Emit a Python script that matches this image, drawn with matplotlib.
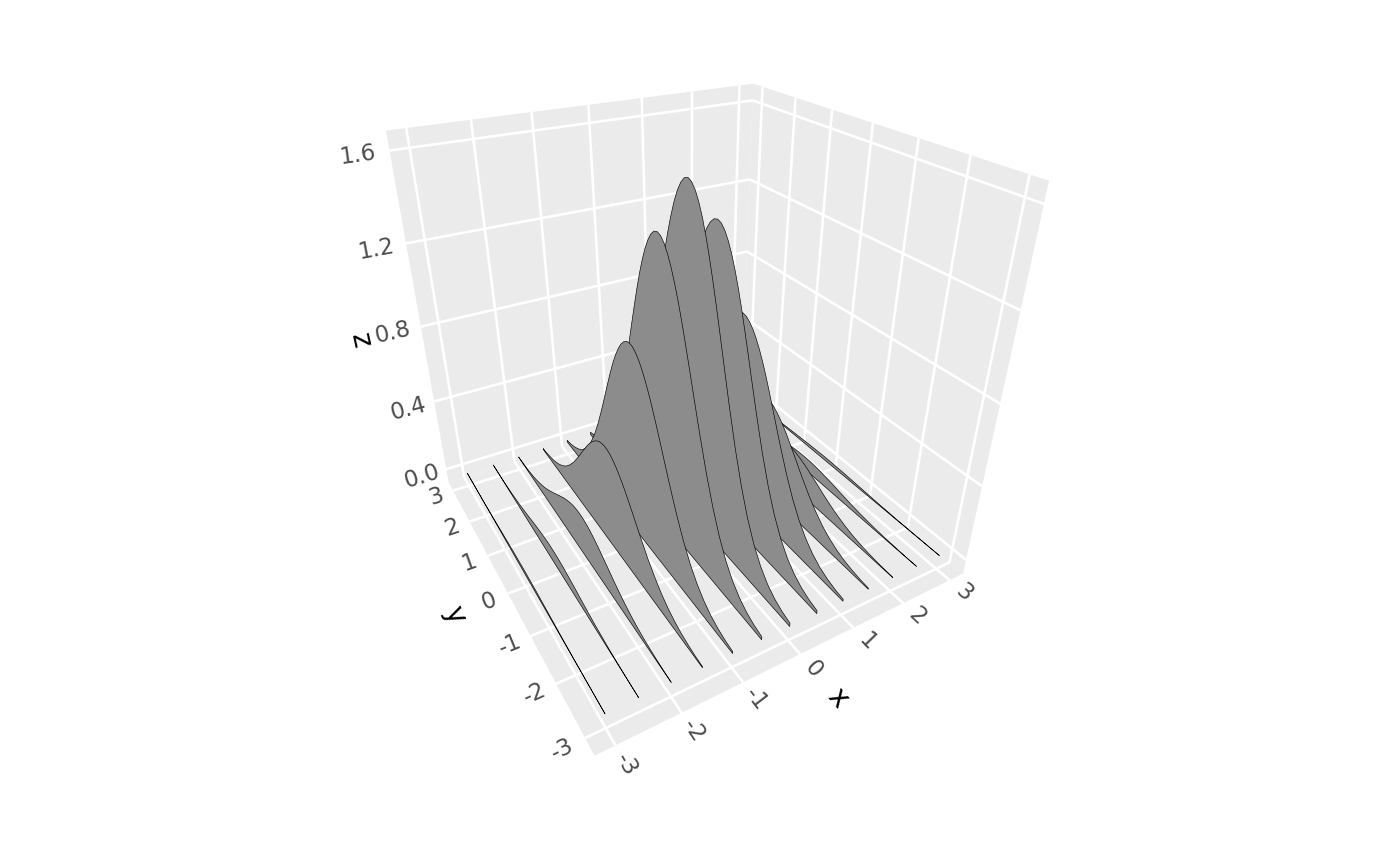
import numpy as np
import matplotlib
matplotlib.use('Agg')
import matplotlib.pyplot as plt
from mpl_toolkits.mplot3d import proj3d
from mpl_toolkits.mplot3d.art3d import Poly3DCollection

# ---- data ----
x_values = [-3, -2.5, -2, -1.5, -1, -0.5, 0, 0.5, 1, 1.5, 2, 2.5, 3]
y_values = [-3.0, -2.8, -2.6, -2.4, -2.2, -2.0, -1.8, -1.6, -1.4,
            -1.2, -1.1, -1.0, -0.9, -0.8, -0.7, -0.6, -0.5, -0.4, -0.3, -0.2, -0.1, 0.0,
            0.1, 0.2, 0.3, 0.4, 0.5, 0.6, 0.7, 0.8, 0.9, 1.0, 1.1, 1.2,
            1.4, 1.6, 1.8, 2.0, 2.2, 2.4, 2.6, 2.8, 3.0]
ridge_00 = [.018,.032,.054,.089,.142,.215,.315,.443,.597,
            .775,.869,.966,1.062,1.156,1.246,1.330,1.405,1.470,1.522,1.560,1.584,1.592,
            1.584,1.560,1.522,1.470,1.405,1.330,1.246,1.156,1.062,.966,.869,.775,
            .597,.443,.315,.215,.142,.089,.054,.032,.018]
ridge_05 = [.016,.028,.048,.079,.125,.190,.278,.391,.527,
            .684,.767,.852,.937,1.020,1.100,1.174,1.240,1.297,1.343,1.377,1.398,1.405,
            1.398,1.377,1.343,1.297,1.240,1.174,1.100,1.020,.937,.852,.767,.684,
            .527,.391,.278,.190,.125,.079,.048,.028,.016]
ridge_10 = [.011,.019,.033,.054,.086,.131,.191,.268,.362,
            .470,.527,.586,.644,.701,.756,.807,.852,.891,.923,.946,.961,.966,
            .961,.946,.923,.891,.852,.807,.756,.701,.644,.586,.527,.470,
            .362,.268,.191,.131,.086,.054,.033,.019,.011]
ridge_15 = [.006,.010,.018,.029,.046,.070,.102,.144,.194,
            .252,.282,.314,.345,.375,.405,.432,.456,.477,.494,.507,.514,.517,
            .514,.507,.494,.477,.456,.432,.405,.375,.345,.314,.282,.252,
            .194,.144,.102,.070,.046,.029,.018,.010,.006]
ridge_20 = [.002,.004,.007,.012,.019,.029,.043,.060,.081,
            .105,.118,.131,.144,.156,.169,.180,.190,.199,.206,.211,.214,.215,
            .214,.211,.206,.199,.190,.180,.169,.156,.144,.131,.118,.105,
            .081,.060,.043,.029,.019,.012,.007,.004,.002]
ridge_25 = [.001,.001,.002,.004,.006,.009,.014,.019,.026,
            .034,.038,.042,.047,.051,.055,.058,.062,.065,.067,.069,.070,.070,
            .070,.069,.067,.065,.062,.058,.055,.051,.047,.042,.038,.034,
            .026,.019,.014,.009,.006,.004,.002,.001,.001]
ridge_30 = [0,0,.001,.001,.002,.002,.004,.005,.007,
            .009,.010,.011,.012,.013,.014,.015,.016,.016,.017,.017,.018,.018,
            .018,.017,.017,.016,.016,.015,.014,.013,.012,.011,.010,.009,
            .007,.005,.004,.002,.002,.001,.001,0,0]
ridges = [ridge_30, ridge_25, ridge_20, ridge_15, ridge_10, ridge_05, ridge_00,
          ridge_05, ridge_10, ridge_15, ridge_20, ridge_25, ridge_30]
x_ticks = [-3, -2, -1, 0, 1, 2, 3]
y_ticks = [-3, -2, -1, 0, 1, 2, 3]
z_ticks = [0.0, 0.4, 0.8, 1.2, 1.6]
x_labels = ['-3', '-2', '-1', '0', '1', '2', '3']
y_labels = ['-3', '-2', '-1', '0', '1', '2', '3']
z_labels = ['0.0', '0.4', '0.8', '1.2', '1.6']

# ---- figure and camera ----
W, H = 1400, 866
L, B, T = 3.3, -0.08, 1.68
PANEL, GRID, FILL, TICK = '#ebebeb', 'white', '#8c8c8c', '#4d4d4d'
fig = plt.figure(figsize=(14, 8.66), dpi=100)
ax = fig.add_axes([-24.2 / W, 59.2 / H, 1, 1], projection='3d', computed_zorder=False)
ax.set_xlim(-L, L, view_margin=0)
ax.set_ylim(-L, L, view_margin=0)
ax.set_zlim(B, T, view_margin=0)
ax.view_init(elev=29.89, azim=-119.99, roll=0.025)
ax.set_proj_type('persp', focal_length=0.18)
ax.set_box_aspect((1, 1, 1), zoom=0.8182)
ax.set_axis_off()

# ---- panels ----
panels = [[(-L, -L, B), (L, -L, B), (L, L, B), (-L, L, B)],
          [(-L, L, B), (L, L, B), (L, L, T), (-L, L, T)],
          [(L, L, B), (L, -L, B), (L, -L, T), (L, L, T)]]
for poly in panels:
    ax.add_collection3d(Poly3DCollection([poly], facecolor=PANEL, edgecolor='none', zorder=1))

# ---- grid ----
def gline(xs, ys, zs):
    ax.plot(xs, ys, zs, color=GRID, lw=1.9, solid_capstyle='butt', zorder=2)
for v in x_ticks:
    gline([v, v], [-L, L], [B, B])
    gline([v, v], [L, L], [B, T])
for v in y_ticks:
    gline([-L, L], [v, v], [B, B])
    gline([L, L], [v, v], [B, T])
for v in z_ticks:
    gline([-L, L], [L, L], [v, v])
    gline([L, L], [-L, L], [v, v])

# ---- ridges, back to front ----
order = sorted(range(len(x_values)), key=lambda i: -x_values[i])
for n, i in enumerate(order):
    xv = x_values[i]
    top = [(xv, y, z) for y, z in zip(y_values, ridges[i])]
    base = [(xv, y_values[-1], 0), (xv, y_values[0], 0)]
    ax.add_collection3d(Poly3DCollection([top + base], facecolor=FILL, edgecolor='black',
                                         linewidths=0.45, zorder=10 + n))

# ---- text: projected to the axes plane, turned along the 3D direction given ----
M = ax.get_proj()
def label(p, d, s, color, size):
    x0, y0, _ = proj3d.proj_transform(p[0], p[1], p[2], M)
    x1, y1, _ = proj3d.proj_transform(p[0] + d[0] * 0.1, p[1] + d[1] * 0.1, p[2] + d[2] * 0.1, M)
    ang = np.degrees(np.arctan2(y1 - y0, x1 - x0))
    ang = (ang + 90) % 180 - 90
    ax.text2D(x0, y0, s, transform=ax.transData, color=color, fontsize=size, rotation=ang,
              ha='center', va='center', rotation_mode='anchor', zorder=50)

FS = 16.5
for v, s in zip(x_ticks, x_labels):
    label((v, -3.62, B), (0, 1, 0), s, TICK, FS)
for v, s in zip(y_ticks, y_labels):
    label((-3.62, v, B), (1, 0, 0), s, TICK, FS)
for v, s in zip(z_ticks, z_labels):
    label((-3.76, L, v), (1, 0, 0), s, TICK, FS)
label((0, -4.18, B), (0, 1, 0), 'x', 'black', 20)
label((-4.17, 0, B), (0, 1, 0), 'y', 'black', 20)
label((-4.29, L, 0.8), (0, 0, 1), 'z', 'black', 20)
fig.savefig('out.png', dpi=100)
